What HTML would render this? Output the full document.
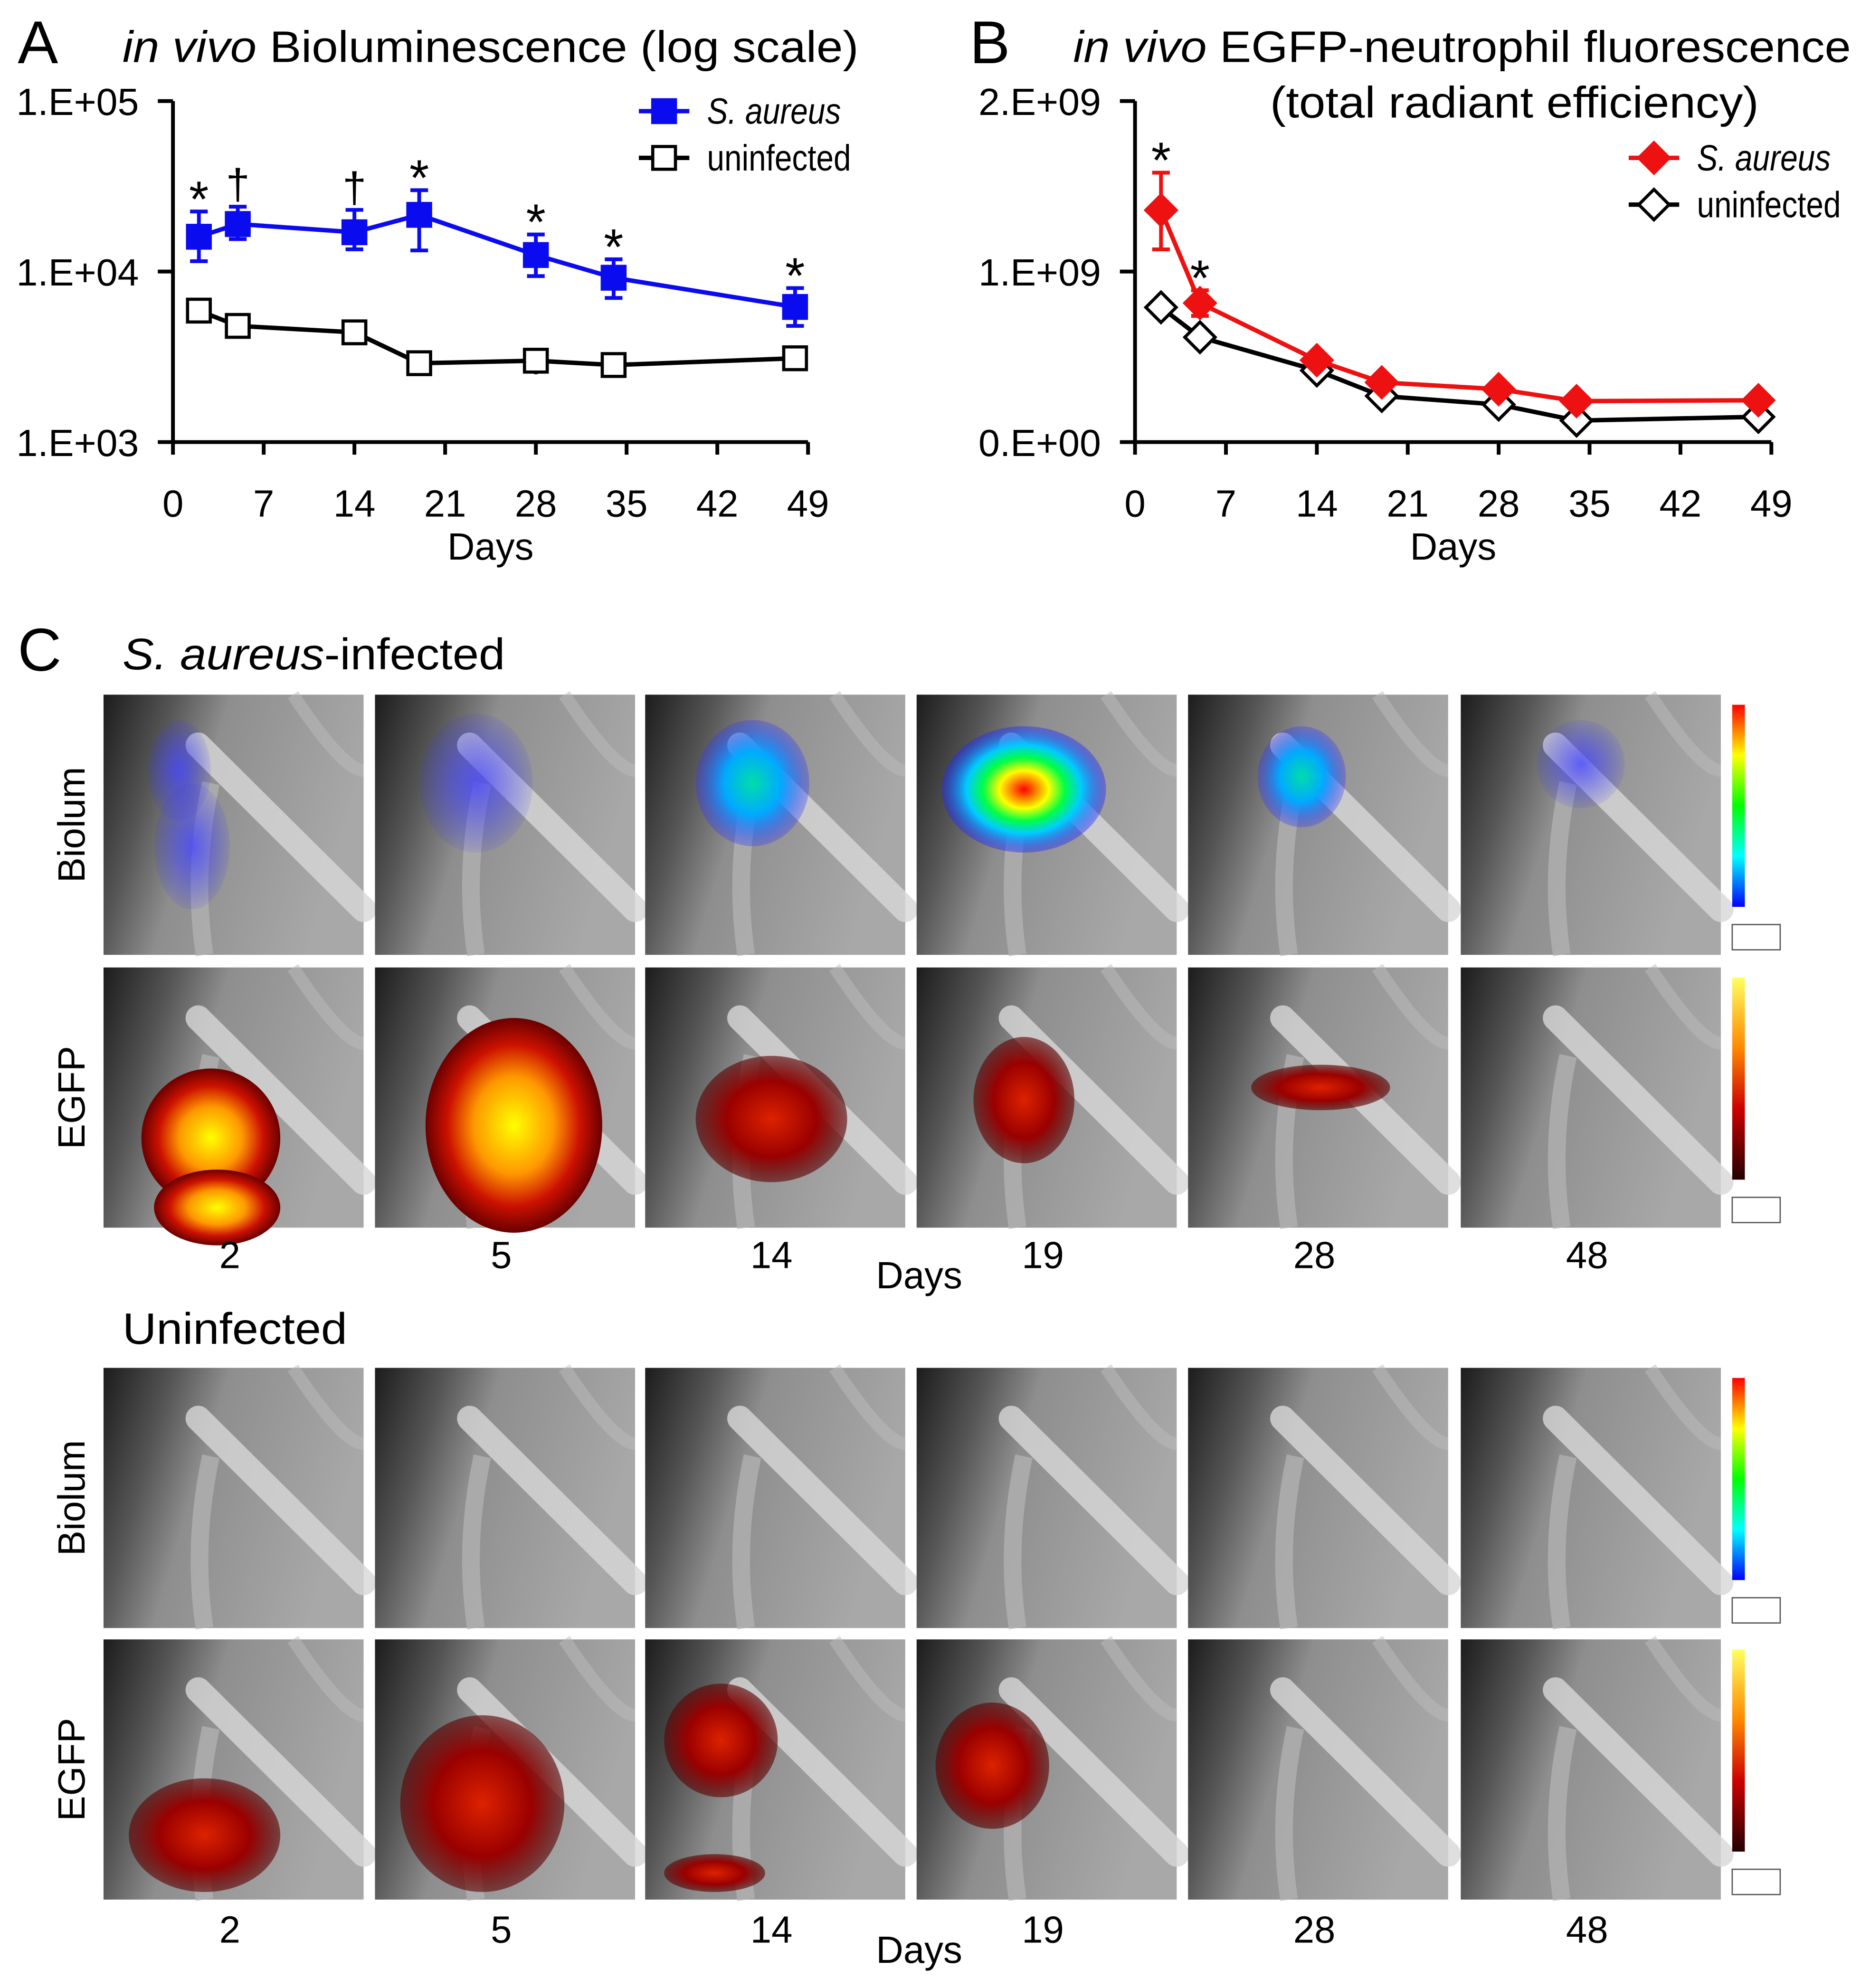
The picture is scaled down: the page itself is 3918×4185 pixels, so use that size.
<!DOCTYPE html>
<html><head><meta charset="utf-8"><style>
html,body{margin:0;padding:0;background:#fff}
svg{display:block}
text{font-family:"Liberation Sans",Arial,sans-serif;fill:#000}
</style></head><body>
<svg id="fig" width="3918" height="4185" viewBox="0 0 1474 1574" preserveAspectRatio="none" xmlns="http://www.w3.org/2000/svg">
<defs>
<linearGradient id="xr" x1="0" y1="0" x2="1" y2="0.3">
<stop offset="0" stop-color="#1c1c1c"/><stop offset="0.25" stop-color="#555"/><stop offset="0.45" stop-color="#8e8e8e"/><stop offset="1" stop-color="#a8a8a8"/>
</linearGradient>
<linearGradient id="lumbar" x1="0" y1="0" x2="0" y2="1">
<stop offset="0" stop-color="#f00"/><stop offset="0.25" stop-color="#ff0"/><stop offset="0.5" stop-color="#0f0"/><stop offset="0.75" stop-color="#0ff"/><stop offset="1" stop-color="#00f"/>
</linearGradient>
<linearGradient id="egbar" x1="0" y1="0" x2="0" y2="1">
<stop offset="0" stop-color="#ffff60"/><stop offset="0.35" stop-color="#f80"/><stop offset="0.65" stop-color="#c00"/><stop offset="1" stop-color="#200"/>
</linearGradient>
<radialGradient id="egfp"><stop offset="0" stop-color="#ffff00"/><stop offset="0.45" stop-color="#ff9900"/><stop offset="0.75" stop-color="#cc1100"/><stop offset="1" stop-color="#6a0000"/></radialGradient>
<radialGradient id="egfpD"><stop offset="0" stop-color="#dd2200"/><stop offset="0.6" stop-color="#9a0000"/><stop offset="1" stop-color="#5a0000" stop-opacity="0.6"/></radialGradient>
<radialGradient id="lum"><stop offset="0" stop-color="#ff0000"/><stop offset="0.3" stop-color="#ffff00"/><stop offset="0.5" stop-color="#00ff44"/><stop offset="0.7" stop-color="#00ccff"/><stop offset="1" stop-color="#2222ff" stop-opacity="0.4"/></radialGradient>
<radialGradient id="lumB"><stop offset="0" stop-color="#00ddaa"/><stop offset="0.5" stop-color="#00aaff"/><stop offset="1" stop-color="#3333ff" stop-opacity="0.3"/></radialGradient>
<radialGradient id="lumV"><stop offset="0" stop-color="#4444ff" stop-opacity="0.8"/><stop offset="1" stop-color="#3333ff" stop-opacity="0.1"/></radialGradient>
</defs>
<g id="gA"></g>
<g id="gB"></g>
<g id="gC"></g>
<text x="14" y="50" font-size="48">A</text>
<text x="97" y="49" font-size="35" textLength="583" lengthAdjust="spacingAndGlyphs"><tspan font-style="italic">in vivo</tspan> Bioluminescence (log scale)</text>
<text x="768" y="50" font-size="48">B</text>
<text x="850" y="49" font-size="35" textLength="616" lengthAdjust="spacingAndGlyphs"><tspan font-style="italic">in vivo</tspan> EGFP-neutrophil fluorescence</text>
<text x="1006" y="93" font-size="35" textLength="387" lengthAdjust="spacingAndGlyphs">(total radiant efficiency)</text>
<text x="14" y="531" font-size="48">C</text>
<text x="97" y="530" font-size="35" textLength="303" lengthAdjust="spacingAndGlyphs"><tspan font-style="italic">S. aureus</tspan>-infected</text>
<text x="97" y="1064" font-size="35" textLength="178" lengthAdjust="spacingAndGlyphs">Uninfected</text>
</svg>
<script>
const NS="http://www.w3.org/2000/svg";
function el(p,t,a,txt){const e=document.createElementNS(NS,t);for(const k in a)e.setAttribute(k,a[k]);if(txt!==undefined)e.textContent=txt;p.appendChild(e);return e;}

// ---- data ----
const days=[2,5,14,19,28,34,48];
const xTicks=[0,7,14,21,28,35,42,49];
const aInf=[16000,19000,17000,21500,12500,9200,6200];
const aInfLo=[11500,15500,13500,13300,9400,7000,4800];
const aInfHi=[22500,24000,23000,30000,16500,11800,8000];
const aUn=[5900,4800,4400,2900,3000,2830,3100];
const aUnLo=[5900,4800,4400,2900,2500,2830,3100];
const aUnHi=[5900,4800,4400,2900,3500,2830,3100];
const aSig=["*","†","†","*","*","*","*"];
const aYTicks=[1000,10000,100000];
const aYLabels=["1.E+03","1.E+04","1.E+05"];
const bInf=[1.36e9,0.815e9,0.48e9,0.35e9,0.31e9,0.24e9,0.245e9];
const bInfLo=[1.13e9,0.74e9,0.48e9,0.35e9,0.31e9,0.24e9,0.245e9];
const bInfHi=[1.58e9,0.89e9,0.48e9,0.35e9,0.31e9,0.24e9,0.245e9];
const bUn=[0.79e9,0.615e9,0.42e9,0.27e9,0.22e9,0.126e9,0.148e9];
const bSig=["*","*","","","","",""];
const bYTicks=[0,1e9,2e9];
const bYLabels=["0.E+00","1.E+09","2.E+09"];

function chart(g,x0,x1,yfn,yTicks,yLabels,inf,lo,hi,un,sig,color,marker,legX,legY){
  const X=d=>x0+(x1-x0)*d/49;
  const yB=350,yT=80;
  el(g,'line',{x1:x0,y1:yT,x2:x0,y2:yB,stroke:'#000','stroke-width':3});
  el(g,'line',{x1:x0,y1:yB,x2:x1,y2:yB,stroke:'#000','stroke-width':3});
  yTicks.forEach((v,i)=>{const y=yfn(v);
    el(g,'line',{x1:x0-12,y1:y,x2:x0,y2:y,stroke:'#000','stroke-width':3});
    const t=el(g,'text',{x:x0-124,y:y+11,'font-size':30,textLength:97,lengthAdjust:'spacingAndGlyphs'},yLabels[i]);
    });
  xTicks.forEach(d=>{const x=X(d);
    el(g,'line',{x1:x,y1:yB,x2:x,y2:yB+10,stroke:'#000','stroke-width':3});
    const t=el(g,'text',{x:x,y:yB+59,'font-size':30,'text-anchor':'middle'},d);
    });
  const xt=el(g,'text',{x:(x0+x1)/2,y:443,'font-size':30,'text-anchor':'middle'},'Days');
  
  const mk=(x,y,fill,stroke,name)=>{let m;
    if(marker==='sq') m=el(g,'rect',{x:x-9,y:y-9,width:18,height:18,fill:fill,stroke:stroke,'stroke-width':2.5});
    else m=el(g,'polygon',{points:`${x},${y-12} ${x+12},${y} ${x},${y+12} ${x-12},${y}`,fill:fill,stroke:stroke,'stroke-width':2.5});
    };
  el(g,'polyline',{points:days.map((d,i)=>X(d)+','+yfn(un[i])).join(' '),fill:'none',stroke:'#000','stroke-width':3.5});
  if(g.id==='gA') days.forEach((d,i)=>{el(g,'line',{x1:X(d),y1:yfn(aUnLo[i]),x2:X(d),y2:yfn(aUnHi[i]),stroke:'#000','stroke-width':3});});
  days.forEach((d,i)=>mk(X(d),yfn(un[i]),'#fff','#000','uninfected-point'));
  days.forEach((d,i)=>{const x=X(d);
    el(g,'line',{x1:x,y1:yfn(lo[i]),x2:x,y2:yfn(hi[i]),stroke:color,'stroke-width':3});
    el(g,'line',{x1:x-7,y1:yfn(lo[i]),x2:x+7,y2:yfn(lo[i]),stroke:color,'stroke-width':3});
    el(g,'line',{x1:x-7,y1:yfn(hi[i]),x2:x+7,y2:yfn(hi[i]),stroke:color,'stroke-width':3});});
  el(g,'polyline',{points:days.map((d,i)=>X(d)+','+yfn(inf[i])).join(' '),fill:'none',stroke:color,'stroke-width':3.5});
  days.forEach((d,i)=>mk(X(d),yfn(inf[i]),color,color,'infected-point'));
  days.forEach((d,i)=>{if(!sig[i])return;
    const t=el(g,'text',{x:X(d),y:yfn(hi[i])-(sig[i]==='*'?-4:6),'font-size':sig[i]==='*'?40:34,'text-anchor':'middle'},sig[i]);
    });
  el(g,'line',{x1:legX,y1:legY,x2:legX+40,y2:legY,stroke:color,'stroke-width':3.5});
  mk(legX+20,legY,color,color,'legend-marker-infected');
  const l1=el(g,'text',{x:legX+54,y:legY+10,'font-size':29,'font-style':'italic',textLength:106,lengthAdjust:'spacingAndGlyphs'},'S. aureus');
  
  el(g,'line',{x1:legX,y1:legY+37,x2:legX+40,y2:legY+37,stroke:'#000','stroke-width':3.5});
  mk(legX+20,legY+37,'#fff','#000','legend-marker-uninfected');
  const l2=el(g,'text',{x:legX+54,y:legY+47,'font-size':29,textLength:114,lengthAdjust:'spacingAndGlyphs'},'uninfected');
  
}
const yA=v=>350-135*(Math.log10(v)-3);
const yBf=v=>350-135*(v/1e9);
chart(document.getElementById('gA'),137,640,yA,aYTicks,aYLabels,aInf,aInfLo,aInfHi,aUn,aSig,'#0b0bf0','sq',506,88);
chart(document.getElementById('gB'),899,1403,yBf,bYTicks,bYLabels,bInf,bInfLo,bInfHi,bUn,bSig,'#ee1111','dia',1290,125);

// ---- panel C ----
const gC=document.getElementById('gC');
const colX=[82,297,511,726,941,1157];
const dayLabels=["2","5","14","19","28","48"];
const rows=[550,766,1083,1298];
const rowType=["Biolum","EGFP","Biolum","EGFP"];
const blobs=[
 [[[60,60,25,40,'lumV'],[70,120,30,50,'lumV']],[[80,70,45,55,'lumV']],[[85,70,45,50,'lumB']],[[85,75,65,50,'lum']],[[90,65,35,40,'lumB']],[[95,55,35,35,'lumV']]],
 [[[85,135,55,55,'egfp'],[90,190,50,30,'egfp']],[[110,125,70,85,'egfp']],[[100,120,60,50,'egfpD']],[[85,105,40,50,'egfpD']],[[105,95,55,18,'egfpD']],[]],
 [[],[],[],[],[],[]],
 [[[80,155,60,45,'egfpD']],[[85,130,65,70,'egfpD']],[[60,80,45,45,'egfpD'],[55,185,40,15,'egfpD']],[[60,100,45,50,'egfpD']],[],[]]
];
rows.forEach((ry,ri)=>{
  colX.forEach((cx,ci)=>{
    const g=el(gC,'g',{});
    
    
    el(g,'rect',{x:cx,y:ry,width:206,height:206,fill:'url(#xr)'});
    el(g,'path',{d:`M${cx+75} ${ry+40} L${cx+206} ${ry+170}`,stroke:'#d8d8d8','stroke-width':20,'stroke-linecap':'round',opacity:0.8});
    el(g,'path',{d:`M${cx+85} ${ry+70} Q${cx+70} ${ry+140} ${cx+80} ${ry+206}`,stroke:'#b5b5b5','stroke-width':14,fill:'none',opacity:0.7});
    el(g,'path',{d:`M${cx+150} ${ry} Q${cx+190} ${ry+60} ${cx+206} ${ry+60}`,stroke:'#bbb','stroke-width':10,fill:'none',opacity:0.5});
    blobs[ri][ci].forEach(b=>el(g,'ellipse',{cx:cx+b[0],cy:ry+b[1],rx:b[2],ry:b[3],fill:'url(#'+b[4]+')'}));
  });
  const bar=el(gC,'rect',{x:1372,y:ry+8,width:10,height:160,fill:rowType[ri]==='Biolum'?'url(#lumbar)':'url(#egbar)'});
  
  el(gC,'rect',{x:1372,y:ry+182,width:38,height:20,fill:'#fff',stroke:'#555','stroke-width':1});
  const rl=el(gC,'text',{x:0,y:0,'font-size':30,'text-anchor':'middle',transform:`translate(67 ${ry+103}) rotate(-90)`},rowType[ri]);
  
});
[1004,1538].forEach((y,k)=>{
  colX.forEach((cx,ci)=>{const t=el(gC,'text',{x:cx+100,y:y,'font-size':30,'text-anchor':'middle'},dayLabels[ci]);
    });
  const d=el(gC,'text',{x:728,y:y+16,'font-size':30,'text-anchor':'middle'},'Days');
  
});
</script>
</body></html>
